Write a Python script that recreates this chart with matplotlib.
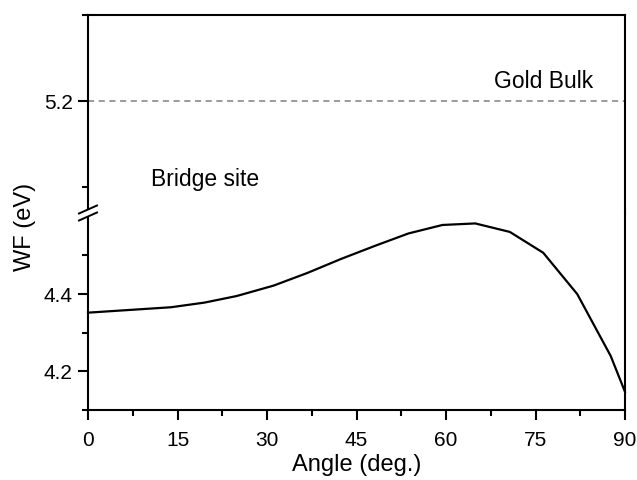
import matplotlib
matplotlib.use("Agg")
import matplotlib.pyplot as plt
from matplotlib.ticker import FixedLocator
from matplotlib.lines import Line2D
from matplotlib.patches import Polygon

plt.rcParams['font.family'] = ['Liberation Sans', 'DejaVu Sans']

angle = [0, 13.9, 19.5, 24.9, 31.1, 36.8, 42.4, 48.1, 53.7, 59.4, 64.9, 70.7, 76.3, 82.0, 87.6, 90]
wf = [4.352, 4.366, 4.378, 4.395, 4.422, 4.455, 4.491, 4.525, 4.557, 4.579, 4.583, 4.561, 4.507, 4.400, 4.240, 4.147]
gold_bulk = 5.2
x_ticks = [0, 15, 30, 45, 60, 75, 90]

W, H = 637, 480
fig = plt.figure(figsize=(W / 100, H / 100), dpi=100)

left_px, right_px = 88, 625
top_px, brk_px, bot_px = 15, 213, 410
l = left_px / W
w = (right_px - left_px) / W
ax_top = fig.add_axes([l, 1 - brk_px / H, w, (brk_px - top_px) / H])
ax_bot = fig.add_axes([l, 1 - bot_px / H, w, (bot_px - brk_px) / H])

lw_sp = 1.5
for ax in (ax_top, ax_bot):
    ax.set_xlim(0, 90)
    for s in ax.spines.values():
        s.set_linewidth(lw_sp)
    ax.tick_params(axis='both', which='major', direction='out', length=7, width=1.5,
                   labelsize=15, pad=4)
    ax.tick_params(axis='both', which='minor', direction='out', length=4, width=1.5)
    ax.tick_params(right=False, top=False, which='both')

ax_top.spines['bottom'].set_visible(False)
ax_bot.spines['top'].set_visible(False)
ax_top.tick_params(axis='x', which='both', bottom=False, labelbottom=False)

ax_top.set_ylim(5.07, 5.30)
ax_top.yaxis.set_major_locator(FixedLocator([5.2]))
ax_top.yaxis.set_minor_locator(FixedLocator([5.1, 5.3]))
ax_top.set_yticklabels(['5.2'])

ax_bot.set_ylim(4.1, 4.61)
ax_bot.yaxis.set_major_locator(FixedLocator([4.2, 4.4]))
ax_bot.yaxis.set_minor_locator(FixedLocator([4.1, 4.3, 4.5]))
ax_bot.set_yticklabels(['4.2', '4.4'])

ax_bot.xaxis.set_major_locator(FixedLocator(x_ticks))
ax_bot.xaxis.set_minor_locator(FixedLocator([7.5, 22.5, 37.5, 52.5, 67.5, 82.5]))
ax_bot.set_xticklabels([str(t) for t in x_ticks])
ax_bot.tick_params(axis='x', which='major', pad=8)

ax_bot.plot(angle, wf, color='black', lw=1.6, clip_on=False, zorder=3)
ax_top.axhline(gold_bulk, color='#808080', lw=1.1, ls=(0, (4, 3)))

ax_top.text(76.3, 5.223, 'Gold Bulk', fontsize=16.5, ha='center', va='center')
ax_top.text(10.6, 5.1085, 'Bridge site', fontsize=16.5, ha='left', va='center')


def fx(px):
    return px / W


def fy(py):
    return 1 - py / H


fig.text(fx((left_px + right_px) / 2), fy(465), 'Angle (deg.)', fontsize=17, ha='center', va='center')
fig.text(fx(25), fy(227), 'WF (eV)', rotation=90, fontsize=17, ha='center', va='center')

# axis break marks on left spine
gap = 3.5
dx, dy = 9, 4
cx, cy = left_px, brk_px
poly = Polygon([(fx(cx - dx), fy(cy + dy + gap)), (fx(cx + dx), fy(cy - dy + gap)),
                (fx(cx + dx), fy(cy - dy - gap)), (fx(cx - dx), fy(cy + dy - gap))],
               closed=True, transform=fig.transFigure, facecolor='white', edgecolor='none', zorder=10)
fig.patches.append(poly)
for off in (gap, -gap):
    fig.lines.append(Line2D([fx(cx - dx), fx(cx + dx)], [fy(cy + dy + off), fy(cy - dy + off)],
                            transform=fig.transFigure, color='black', lw=1.4, zorder=11))

fig.savefig('out.png', dpi=100)
